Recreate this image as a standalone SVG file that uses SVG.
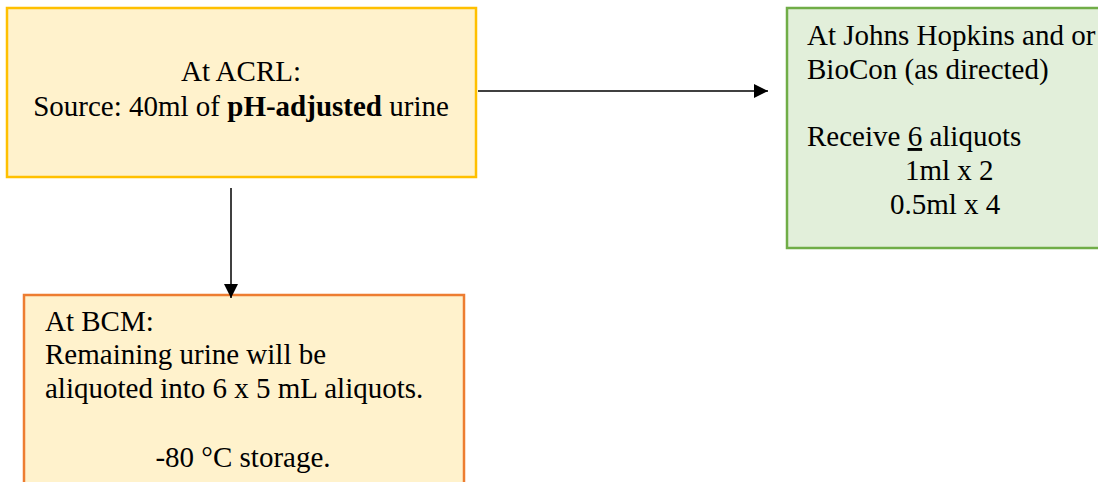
<svg xmlns="http://www.w3.org/2000/svg" width="1098" height="482" viewBox="0 0 1098 482">
<defs>
<style>
.t{font-family:"Liberation Serif","Times New Roman",serif;font-size:29px;fill:#000}
.box{stroke-width:2.5}
.conn{stroke:#000;stroke-width:1.5;fill:none}
</style>
<marker id="ah" markerWidth="14" markerHeight="14" refX="14" refY="7" orient="auto" markerUnits="userSpaceOnUse" viewBox="0 0 14 14">
<path d="M0,0 L14,7 L0,14 z" fill="#000"/>
</marker>
</defs>
<rect width="1098" height="482" fill="#fff"/>
<g id="acrl">
<rect class="box" x="7" y="8" width="469" height="169" fill="#FFF2CC" stroke="#FFC000"/>
<text class="t" x="241" y="81" text-anchor="middle">At ACRL:</text>
<text class="t" x="241" y="116" text-anchor="middle">Source: 40ml of <tspan font-weight="bold">pH-adjusted</tspan> urine</text>
</g>
<g id="hopkins">
<rect class="box" x="787" y="8" width="320" height="240" fill="#E2EFDA" stroke="#70AD47"/>
<text class="t" x="807" y="45">At Johns Hopkins and or</text>
<text class="t" x="807" y="79">BioCon (as directed)</text>
<text class="t" x="807" y="146">Receive <tspan text-decoration="underline">6</tspan> aliquots</text>
<text class="t" x="905" y="180">1ml x 2</text>
<text class="t" x="890" y="214">0.5ml x 4</text>
</g>
<g id="bcm">
<rect class="box" x="24" y="295" width="440" height="200" fill="#FFF2CC" stroke="#ED7D31"/>
<text class="t" x="45" y="331">At BCM:</text>
<text class="t" x="45" y="364">Remaining urine will be</text>
<text class="t" x="45" y="398">aliquoted into 6 x 5 mL aliquots.</text>
<text class="t" x="243" y="467" text-anchor="middle">-80 °C storage.</text>
</g>
<g id="connectors">
<line class="conn" x1="478" y1="91" x2="768" y2="91" marker-end="url(#ah)"/>
<line class="conn" x1="231" y1="188" x2="231" y2="298" marker-end="url(#ah)"/>
</g>
</svg>
